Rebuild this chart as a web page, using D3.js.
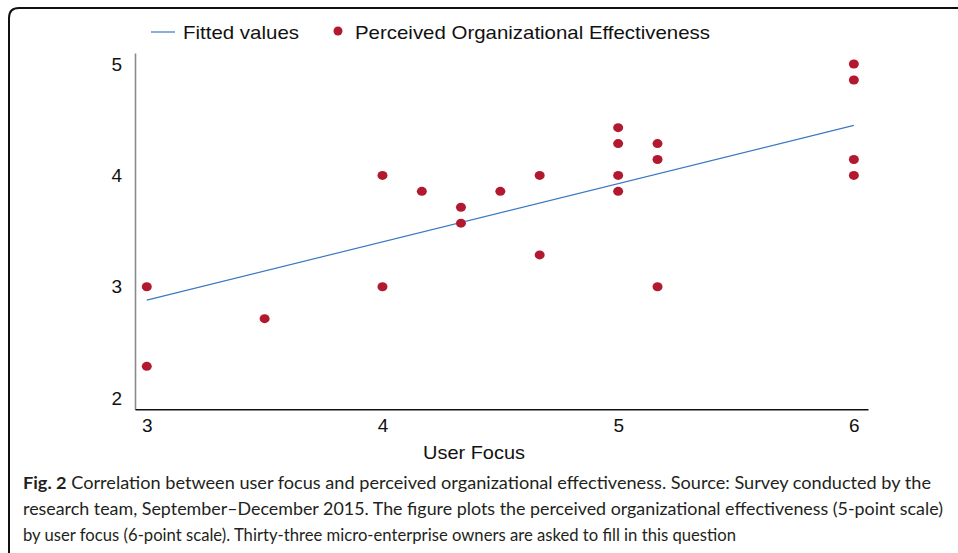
<!DOCTYPE html>
<html>
<head>
<meta charset="utf-8">
<script src="https://cdn.jsdelivr.net/npm/d3@7"></script>
<style>
  html, body { margin: 0; padding: 0; background: #fff; }
  svg { display: block; }
</style>
</head>
<body>
<svg id="chart" width="958" height="553"></svg>
<script>
// ---- data ----
const userFocus     = [3, 3, 3.5, 4, 4, 4.167, 4.333, 4.333, 4.5, 4.667, 4.667, 5, 5, 5, 5, 5.167, 5.167, 5.167, 6, 6, 6, 6];
const effectiveness = [3, 2.286, 2.714, 4, 3, 3.857, 3.714, 3.571, 3.857, 4, 3.286, 4.429, 4.286, 4, 3.857, 4.286, 4.143, 3, 5, 4.857, 4.143, 4];
const fittedX = [3, 6];
const fittedY = [2.88, 4.45];
const xTicks = [3, 4, 5, 6];
const yTicks = [2, 3, 4, 5];
const legendLabels = ["Fitted values", "Perceived Organizational Effectiveness"];
const xTitle = "User Focus";
const captionBold = "Fig. 2";
const captionLines = [
  " Correlation between user focus and perceived organizational effectiveness. Source: Survey conducted by the",
  "research team, September\u2013December 2015. The figure plots the perceived organizational effectiveness (5-point scale)",
  "by user focus (6-point scale). Thirty-three micro-enterprise owners are asked to fill in this question"
];

const svg = d3.select("#chart");
const font = "'Liberation Sans', Arial, Helvetica, sans-serif";
const dotColor = "#b3192e";
const lineColor = "#3b78bf";
const fs = 19;

// frame
svg.append("path")
  .attr("d", "M9,553 L9,18 Q9,8 19,8 L958,8")
  .attr("fill", "none").attr("stroke", "#111").attr("stroke-width", 2);

const x = d3.scaleLinear().domain([2.95, 6.06]).range([135, 868]);
const y = d3.scaleLinear().domain([1.9, 5.1]).range([409.3, 52.9]);

// axes
const yAxis = svg.append("g").attr("transform", "translate(135,0)")
  .call(d3.axisLeft(y).tickValues(yTicks).tickSize(0).tickPadding(13).tickFormat(d3.format("d")));
yAxis.select(".domain").attr("stroke", "#8a8a8a").attr("stroke-width", 1.6);
yAxis.selectAll("text").attr("font-family", font).attr("font-size", fs).attr("fill", "#111");

const xAxis = svg.append("g").attr("transform", "translate(0,409.3)")
  .call(d3.axisBottom(x).tickValues(xTicks).tickSize(0).tickPadding(9).tickFormat(d3.format("d")));
xAxis.select(".domain").attr("stroke", "#111").attr("stroke-width", 1.4);
xAxis.selectAll("text").attr("font-family", font).attr("font-size", fs).attr("fill", "#111");

svg.append("text").attr("x", 474).attr("y", 459)
  .attr("text-anchor", "middle").attr("font-family", font).attr("font-size", fs).attr("fill", "#111")
  .attr("textLength", 102).attr("lengthAdjust", "spacingAndGlyphs")
  .text(xTitle);

// fitted line
svg.append("path")
  .datum(fittedX.map((d, i) => [d, fittedY[i]]))
  .attr("d", d3.line().x(d => x(d[0])).y(d => y(d[1])))
  .attr("fill", "none").attr("stroke", lineColor).attr("stroke-width", 1.2);

// points
svg.append("g").selectAll("ellipse")
  .data(userFocus.map((d, i) => [d, effectiveness[i]]))
  .join("ellipse")
  .attr("cx", d => x(d[0])).attr("cy", d => y(d[1]))
  .attr("rx", 5).attr("ry", 4.5)
  .attr("fill", dotColor);

// legend
const lg = svg.append("g");
lg.append("line").attr("x1", 151).attr("x2", 175).attr("y1", 32).attr("y2", 32)
  .attr("stroke", lineColor).attr("stroke-width", 1.2);
lg.append("text").attr("x", 183).attr("y", 38.5).attr("font-family", font).attr("font-size", fs)
  .attr("fill", "#111").attr("textLength", 116).attr("lengthAdjust", "spacingAndGlyphs")
  .text(legendLabels[0]);
lg.append("circle").attr("cx", 338).attr("cy", 31).attr("r", 4.5).attr("fill", dotColor);
lg.append("text").attr("x", 355).attr("y", 38.5).attr("font-family", font).attr("font-size", fs)
  .attr("fill", "#111").attr("textLength", 355).attr("lengthAdjust", "spacingAndGlyphs")
  .text(legendLabels[1]);

// caption
const capFont = "Lato, 'Noto Sans', sans-serif";
const capEnds = [931, 943, 736];
const capY = [489, 515, 541];
captionLines.forEach((line, i) => {
  const t = svg.append("text").attr("x", 23).attr("y", capY[i])
    .attr("font-family", capFont).attr("font-size", 17.5).attr("fill", "#231f20")
    .attr("textLength", capEnds[i] - 23).attr("lengthAdjust", "spacingAndGlyphs");
  if (i === 0) t.append("tspan").attr("font-weight", "bold").text(captionBold);
  t.append("tspan").text(line);
});
</script>
</body>
</html>
